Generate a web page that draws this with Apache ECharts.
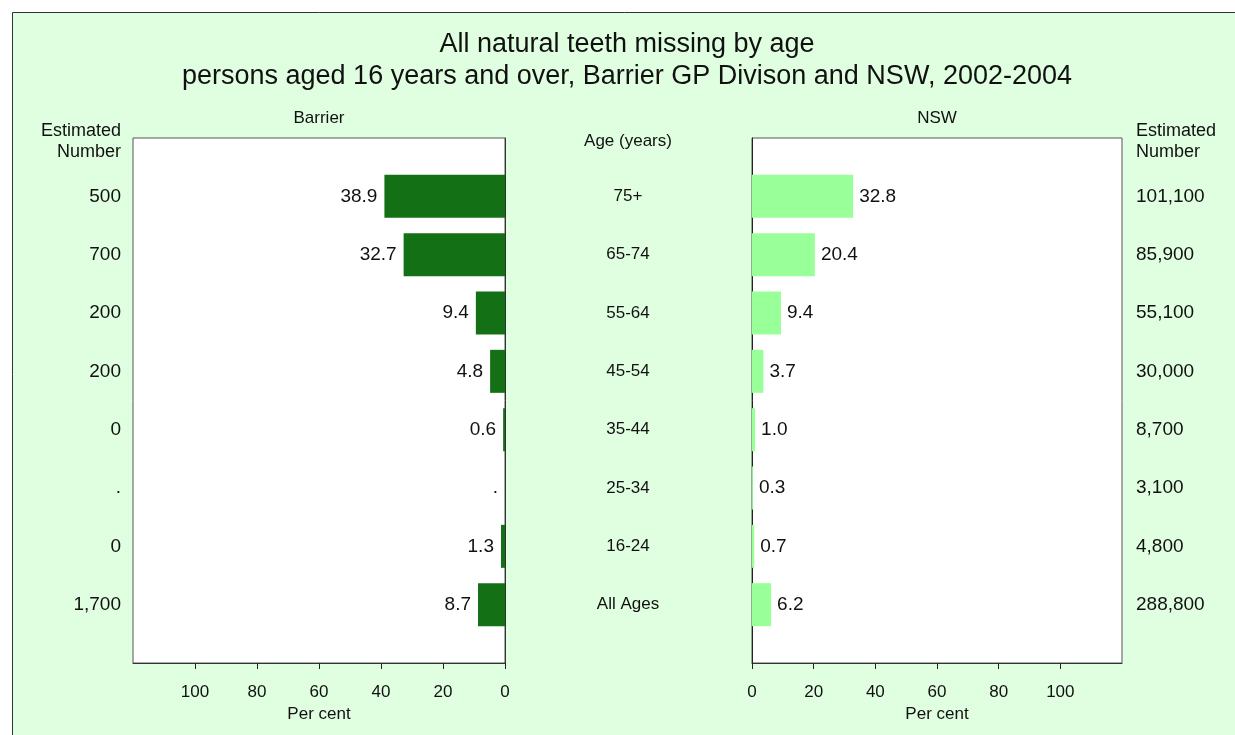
<!DOCTYPE html>
<html><head><meta charset="utf-8">
<script src="https://cdn.jsdelivr.net/npm/echarts@6/dist/echarts.min.js"></script>
<style>html,body{margin:0;padding:0;background:#fff}#c{width:1235px;height:735px}</style>
</head><body><div id="c"></div>
<script>
const ages = ['75+','65-74','55-64','45-54','35-44','25-34','16-24','All Ages'];
const barrierPct = [38.9, 32.7, 9.4, 4.8, 0.6, null, 1.3, 8.7];
const nswPct = [32.8, 20.4, 9.4, 3.7, 1.0, 0.3, 0.7, 6.2];
const barrierNum = ['500','700','200','200','0','.','0','1,700'];
const nswNum = ['101,100','85,900','55,100','30,000','8,700','3,100','4,800','288,800'];
const xTicks = [0, 20, 40, 60, 80, 100];

const pad = a => [null].concat(a, [null]);
const cats = pad(ages).map(v => v == null ? '' : v);
const F = 'Liberation Sans, Arial, sans-serif';
const dark = '#147014', light = '#99ff99', bg = '#e0ffe0';

const chart = echarts.init(document.getElementById('c'), null, {renderer:'canvas'});
const xAxisCommon = {
  type:'value', min:0, max:120, interval:20,
  splitLine:{show:false},
  axisLine:{show:true, lineStyle:{color:'#333', width:1}},
  axisTick:{show:true, length:6, lineStyle:{color:'#222'}, customValues: xTicks},
  axisLabel:{show:true, color:'#111', fontFamily:F, fontSize:17, margin:21, customValues: xTicks},
  name:'Per cent', nameLocation:'middle', nameGap:40,
  nameTextStyle:{color:'#111', fontFamily:F, fontSize:17}
};
const catAxis = (grid, pos, labels, align, margin, size) => ({
  type:'category', gridIndex:grid, position:pos, data:cats, inverse:true, boundaryGap:false,
  axisLine:{show:false}, axisTick:{show:false}, splitLine:{show:false},
  axisLabel:{show:true, interval:0, color:'#111', fontFamily:F, fontSize:size, align:align, margin:margin,
    formatter:(v, i) => (i>=1 && i<=labels.length) ? labels[i-1] : ''}
});
const fmt = v => v == null ? '.' : v.toFixed(1);
const txt = (x, y, text, size, align) => ({type:'text', x:x, y:y,
  style:{text:text, font:size+'px '+F, fill:'#111', textAlign:align, textVerticalAlign:'middle'}});

chart.setOption({
  animation:false,
  backgroundColor:'#fff',
  graphic:[
    {type:'rect', z:-10, shape:{x:12.5, y:12.5, width:1240, height:740}, style:{fill:bg, stroke:'#333', lineWidth:1}},
    txt(627, 45, 'All natural teeth missing by age', 27, 'center'),
    txt(627, 77, 'persons aged 16 years and over, Barrier GP Divison and NSW, 2002-2004', 27, 'center'),
    txt(319, 118, 'Barrier', 17, 'center'),
    txt(937, 118, 'NSW', 17, 'center'),
    txt(628, 141, 'Age (years)', 17, 'center'),
    txt(121, 131, 'Estimated', 18, 'right'),
    txt(121, 152, 'Number', 18, 'right'),
    txt(1136, 131, 'Estimated', 18, 'left'),
    txt(1136, 152, 'Number', 18, 'left')
  ],
  grid:[
    {left:133, right:730, top:138, bottom:72, show:true, backgroundColor:'#fff', borderColor:'#555', borderWidth:1, containLabel:false},
    {left:752, right:113, top:138, bottom:72, show:true, backgroundColor:'#fff', borderColor:'#555', borderWidth:1, containLabel:false}
  ],
  xAxis:[
    Object.assign({}, xAxisCommon, {gridIndex:0, inverse:true}),
    Object.assign({}, xAxisCommon, {gridIndex:1})
  ],
  yAxis:[
    Object.assign(catAxis(0,'right',ages,'center',123,17), {axisLine:{show:true, onZero:false, lineStyle:{color:'#333'}}}),
    catAxis(0,'left',barrierNum,'right',12,19),
    Object.assign(catAxis(1,'left',[],'left',8,17), {axisLine:{show:true, onZero:false, lineStyle:{color:'#222'}}, axisLabel:{show:false}}),
    catAxis(1,'right',nswNum,'left',14,19)
  ],
  series:[
    {type:'bar', xAxisIndex:0, yAxisIndex:0, barWidth:43,
     data: pad(barrierPct.map(v => v == null ? 0 : v)).map((v,i)=> i===0||i===ages.length+1 ? null : v),
     itemStyle:{color:dark},
     label:{show:true, position:'left', distance:7, color:'#111', fontFamily:F, fontSize:19,
       formatter:p => fmt(barrierPct[p.dataIndex-1])}},
    {type:'bar', xAxisIndex:1, yAxisIndex:2, barWidth:43,
     data: pad(nswPct),
     itemStyle:{color:light},
     label:{show:true, position:'right', distance:6, color:'#111', fontFamily:F, fontSize:19,
       formatter:p => fmt(nswPct[p.dataIndex-1])}}
  ]
});
</script></body></html>
